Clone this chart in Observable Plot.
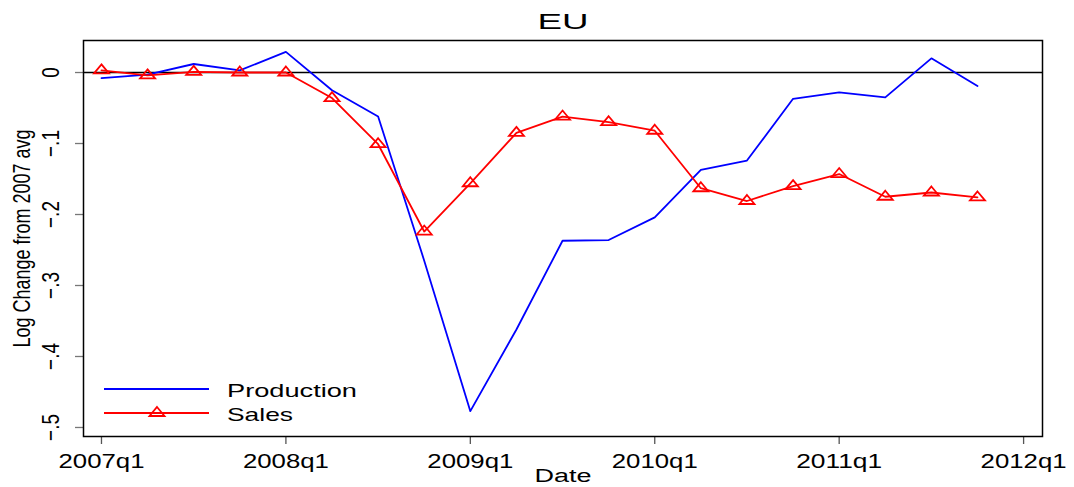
<!DOCTYPE html>
<html>
<head>
<meta charset="utf-8">
<script src="https://cdn.jsdelivr.net/npm/d3@7"></script>
<script src="https://cdn.jsdelivr.net/npm/@observablehq/plot@0.6"></script>
<style>
  html, body { margin: 0; padding: 0; background: #fff; }
  svg { display: block; }
</style>
</head>
<body>
<div id="chart"></div>
<script>
const quarters = ["2007q1","2007q2","2007q3","2007q4","2008q1","2008q2","2008q3","2008q4",
                  "2009q1","2009q2","2009q3","2009q4","2010q1","2010q2","2010q3","2010q4",
                  "2011q1","2011q2","2011q3","2011q4"];
const production = [-0.008, -0.003, 0.012, 0.003, 0.029, -0.025, -0.062, -0.265,
                    -0.477, -0.362, -0.237, -0.236, -0.204, -0.137, -0.124, -0.037,
                    -0.028, -0.035, 0.020, -0.019];
const sales = [0.003, -0.004, 0.001, 0.000, 0.000, -0.036, -0.101, -0.224,
               -0.156, -0.085, -0.062, -0.070, -0.082, -0.163, -0.181, -0.160,
               -0.143, -0.175, -0.169, -0.176];
const xTickLabels = ["2007q1","2008q1","2009q1","2010q1","2011q1","2012q1"];
const yTicks = [0, -0.1, -0.2, -0.3, -0.4, -0.5];
const seriesNames = ["Production", "Sales"];
const seriesColors = ["#0000ff", "#ff0000"];

const qIndex = (s) => (+s.slice(0, 4) - 2007) * 4 + (+s.slice(5) - 1);
const rows = quarters.map((q, i) => ({q, i: qIndex(q), production: production[i], sales: sales[i]}));
const xTicks = xTickLabels.map(l => ({pos: qIndex(l), label: l}));
const fmtY = d => d === 0 ? "0" : d3.format(".1f")(d).replace("0.", ".");

// flattened open triangle (Stata-like)
const tri = {
  draw(ctx, size) {
    ctx.moveTo(0, -6);
    ctx.lineTo(7.5, 3);
    ctx.lineTo(-7.5, 3);
    ctx.closePath();
  }
};

const chart = Plot.plot({
  width: 1074,
  height: 487,
  marginLeft: 83,
  marginRight: 32,
  marginTop: 40,
  marginBottom: 51,
  style: {fontFamily: "'Liberation Sans', Arial, sans-serif", background: "#fff", color: "#000"},
  x: {domain: [-0.39, 20.41]},
  y: {domain: [-0.5127, 0.0451]},
  marks: [
    Plot.axisX(xTicks.map(d => d.pos), {tickSize: 8, tickFormat: () => "", label: null, stroke: "#555", strokeWidth: 1.3}),
    Plot.axisY(yTicks, {tickSize: 8, tickFormat: () => "", label: null, stroke: "#777", strokeWidth: 1.3}),
    Plot.text(xTicks, {x: "pos", text: "label", frameAnchor: "bottom", lineAnchor: "middle", dy: 25, fontSize: 20, fill: "#000", className: "xtl"}),
    Plot.text(yTicks, {y: d => d, text: fmtY, frameAnchor: "left", textAnchor: "middle", lineAnchor: "middle", dx: -32, rotate: -90, fontSize: 19, fill: "#000", className: "ytl"}),
    Plot.text(["Log Change from 2007 avg"], {frameAnchor: "left", textAnchor: "middle", lineAnchor: "middle", dx: -61, rotate: -90, fontSize: 18, fill: "#000", className: "ytitle"}),
    Plot.text(["Date"], {frameAnchor: "bottom", lineAnchor: "middle", dy: 39.5, fontSize: 18, fill: "#000", className: "xtitle"}),
    Plot.text(["EU"], {frameAnchor: "top", lineAnchor: "middle", dy: -19, fontSize: 22, fill: "#000", className: "title"}),
    Plot.ruleY([0], {stroke: "#000", strokeWidth: 1.5}),
    Plot.line(rows, {x: "i", y: "production", stroke: seriesColors[0], strokeWidth: 1.8}),
    Plot.line(rows, {x: "i", y: "sales", stroke: seriesColors[1], strokeWidth: 1.8}),
    Plot.dot(rows, {x: "i", y: "sales", symbol: tri, stroke: seriesColors[1], strokeWidth: 1.8, fill: "none"}),
    Plot.frame({stroke: "#000", strokeWidth: 1.5})
  ]
});

document.getElementById("chart").appendChild(chart);

// Stata-like horizontally stretched lettering
chart.querySelectorAll(".xtl text").forEach(t => { t.setAttribute("textLength", 86); t.setAttribute("lengthAdjust", "spacingAndGlyphs"); });
chart.querySelectorAll(".xtitle text").forEach(t => { t.setAttribute("textLength", 57); t.setAttribute("lengthAdjust", "spacingAndGlyphs"); });
chart.querySelectorAll(".title text").forEach(t => { t.setAttribute("textLength", 51); t.setAttribute("lengthAdjust", "spacingAndGlyphs"); });
chart.querySelectorAll(".ytl text, .ytitle text").forEach(t => {
  const tr = t.getAttribute("transform") || "";
  t.setAttribute("transform", tr + " scale(1,1.3)");
});

// legend (inside plot area, lower left)
const svg = d3.select(chart);
const lg = svg.append("g").attr("font-family", "'Liberation Sans', Arial, sans-serif").attr("font-size", 19).attr("text-anchor", "start");
const legendRows = [{y: 389}, {y: 413}];
seriesNames.forEach((name, k) => {
  const y = legendRows[k].y;
  lg.append("line").attr("x1", 104).attr("x2", 209).attr("y1", y).attr("y2", y)
    .attr("stroke", seriesColors[k]).attr("stroke-width", 1.8);
  if (k === 1) {
    lg.append("path").attr("transform", `translate(157,${y})`)
      .attr("d", "M0,-6L7.5,3L-7.5,3Z").attr("fill", "none")
      .attr("stroke", seriesColors[k]).attr("stroke-width", 1.8);
  }
  lg.append("text").attr("x", 227).attr("y", y + 1).attr("dy", "0.35em")
    .attr("textLength", name === "Production" ? 130 : 66).attr("lengthAdjust", "spacingAndGlyphs")
    .attr("fill", "#000").text(name);
});
</script>
</body>
</html>
